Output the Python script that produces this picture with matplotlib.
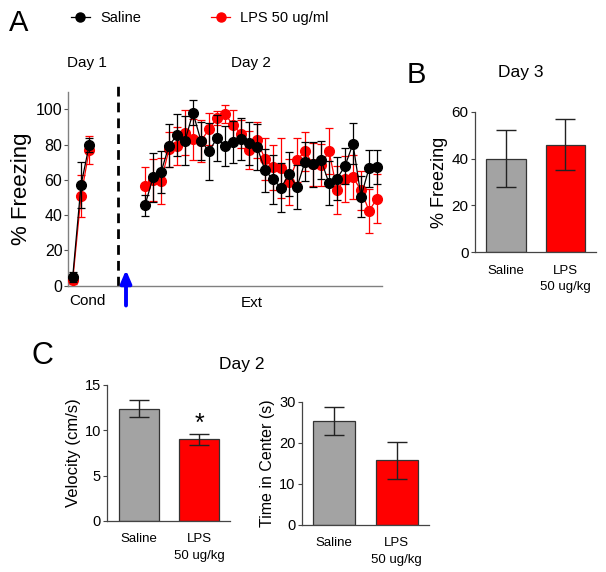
import numpy as np
import matplotlib
matplotlib.use("Agg")
import matplotlib.pyplot as plt
from matplotlib.lines import Line2D

plt.rcParams['font.family'] = ['Liberation Sans', 'DejaVu Sans']

# ---------------- data ----------------
day1_saline = [5, 57, 80]
day1_saline_err = [3, 13, 4]
day1_lps = [3, 51, 77]
day1_lps_err = [2, 12, 8]

day2_saline = [45.6, 61.4, 64.3, 79.4, 85.4, 82.2, 98.1, 82.0, 76.2, 83.7,
               79.2, 81.5, 83.2, 80.7, 78.8, 65.4, 60.3, 55.6, 63.1, 55.9,
               70.3, 68.8, 71.3, 58.1, 60.7, 67.9, 80.5, 50.5, 66.6, 67.4]
day2_saline_err = [6, 14, 12, 12.3, 11.7, 13.8, 7, 10.8, 16, 13,
                   11.3, 12, 12, 12, 13, 12, 14, 14, 12.5, 12.5,
                   11, 12.7, 11, 12.5, 12, 10, 11.5, 11.5, 10.5, 9.5]
day2_lps = [56.5, 60, 59.2, 77.3, 79.2, 86.7, 83.0, 82, 88.8, 95.2,
            97.2, 91.3, 86.0, 76.9, 82.6, 71.8, 67.1, 66.9, 59.0, 71.3,
            76.2, 68.8, 68.6, 76.2, 54.4, 60.3, 61.4, 54.2, 42.5, 49.3]
day2_lps_err = [10.9, 12, 13, 10, 10.6, 12.7, 11.7, 12, 9, 4,
                5, 8.5, 8, 11, 10, 12, 12.7, 17, 13, 12.5,
                11, 12, 12, 13, 13.5, 13, 12.5, 11, 12.5, 14]

groups = ['Saline', 'LPS\n50 ug/kg']
day3_freezing = [40, 46]
day3_err = [12, 11]
velocity = [12.4, 9.0]
velocity_err = [0.9, 0.65]
center_time = [25.3, 15.8]
center_err = [3.4, 4.5]

legend_labels = ['Saline', 'LPS 50 ug/ml']
bar_colors = ['#a3a3a3', '#ff0000']

# ---------------- figure ----------------
W, H = 606, 572
fig = plt.figure(figsize=(W / 100, H / 100), dpi=100)


def fx(px):
    return px / W


def fy(py):
    return 1 - py / H


def rect(l, t, r, b):
    return [fx(l), fy(b), fx(r) - fx(l), fy(t) - fy(b)]


# ---- Panel A ----
axA = fig.add_axes(rect(68, 91.7, 382, 285.7))
axA.set_xlim(0, 39.25)
axA.set_ylim(0, 110)
for s in ['top', 'right']:
    axA.spines[s].set_visible(False)
for s in ['left', 'bottom']:
    axA.spines[s].set_color('#808080')
    axA.spines[s].set_linewidth(1.0)
axA.spines['left'].set_bounds(0, 110)
axA.set_yticks([0, 20, 40, 60, 80, 100])
axA.tick_params(axis='y', labelsize=11.5, length=3, width=0.8, color='#555555', pad=1)
axA.set_xticks([])
axA.set_ylabel('% Freezing', fontsize=16, labelpad=3)

x1 = 0.59 + np.arange(len(day1_saline)) * 1.035
x2 = 9.625 + np.arange(len(day2_saline))

ekw = dict(capsize=2.6, elinewidth=0.9, capthick=0.9, markersize=7, linewidth=0.9, marker='o')
for xs, ys, es in [(x1, day1_lps, day1_lps_err), (x2, day2_lps, day2_lps_err)]:
    axA.errorbar(xs, ys, yerr=es, color='#ff0000', ecolor='#ff0000', zorder=3, clip_on=False, **ekw)
for xs, ys, es in [(x1, day1_saline, day1_saline_err), (x2, day2_saline, day2_saline_err)]:
    axA.errorbar(xs, ys, yerr=es, color='black', ecolor='black', zorder=4, clip_on=False, **ekw)

# dashed separator and arrow
axA.plot([6.3, 6.3], [0, 114], ls=(0, (3.5, 2.2)), color='black', lw=2.0, clip_on=False)
axA.annotate('', xy=(7.25, 10.5), xytext=(7.25, -12.8), annotation_clip=False,
             arrowprops=dict(arrowstyle='-|>,head_width=0.32,head_length=0.75', color='#0000ff', lw=2.8))

fig.text(fx(87), fy(63), 'Day 1', fontsize=11, ha='center', va='center')
fig.text(fx(251), fy(63), 'Day 2', fontsize=11, ha='center', va='center')
fig.text(fx(87), fy(301), 'Cond', fontsize=11, ha='center', va='center')
fig.text(fx(252), fy(303), 'Ext', fontsize=11, ha='center', va='center')
fig.text(fx(19), fy(23), 'A', fontsize=21, ha='center', va='center')

handles = [Line2D([], [], color='black', marker='o', markersize=6.5, lw=0.9),
           Line2D([], [], color='#ff0000', marker='o', markersize=6.5, lw=0.9)]
fig.legend(handles, legend_labels, loc='center left', bbox_to_anchor=(fx(71), fy(18)),
           ncol=2, frameon=False, fontsize=10.5, handlelength=1.3, handletextpad=0.7,
           columnspacing=4.8, borderpad=0, borderaxespad=0)


def bar_axes(r, vals, errs, ylim, yticks, ylabel, ylabsize, ticksize):
    ax = fig.add_axes(r)
    xs = [0.78, 2.28]
    ax.bar(xs, vals, width=1.0, color=bar_colors, edgecolor='#333333', linewidth=0.9, zorder=2)
    ax.errorbar(xs, vals, yerr=errs, fmt='none', ecolor='#222222', elinewidth=1.0,
                capsize=7, capthick=1.0, zorder=3)
    ax.set_xlim(0, 3.05)
    ax.set_ylim(*ylim)
    ax.set_yticks(yticks)
    ax.set_xticks(xs)
    ax.set_xticklabels(groups, fontsize=9.5, linespacing=1.45)
    for s in ['top', 'right']:
        ax.spines[s].set_visible(False)
    for s in ['left', 'bottom']:
        ax.spines[s].set_color('#444444')
        ax.spines[s].set_linewidth(0.9)
    ax.tick_params(axis='x', length=0, pad=9)
    ax.tick_params(axis='y', labelsize=ticksize, length=3, width=0.8, color='#444444', pad=1.5)
    ax.set_ylabel(ylabel, fontsize=ylabsize, labelpad=3)
    return ax


# ---- Panel B ----
bar_axes(rect(475, 111.7, 596, 252.3), day3_freezing, day3_err, (0, 60), [0, 20, 40, 60],
         '% Freezing', 13, 11)
fig.text(fx(521), fy(72), 'Day 3', fontsize=12.5, ha='center', va='center')
fig.text(fx(416), fy(75), 'B', fontsize=21, ha='center', va='center')

# ---- Panel C ----
axV = bar_axes(rect(107.3, 385, 230, 521), velocity, velocity_err, (0, 15), [0, 5, 10, 15],
               'Velocity (cm/s)', 12, 10.5)
axV.text(2.28, velocity[1] + velocity_err[1] + 1.1, '*', fontsize=18, ha='center', va='center')
bar_axes(rect(301.7, 401.7, 429, 525), center_time, center_err, (0, 30), [0, 10, 20, 30],
         'Time in Center (s)', 11.5, 10.5)
fig.text(fx(242), fy(365), 'Day 2', fontsize=12.5, ha='center', va='center')
fig.text(fx(42), fy(356), 'C', fontsize=22, ha='center', va='center')

fig.savefig('out.png', dpi=100)
